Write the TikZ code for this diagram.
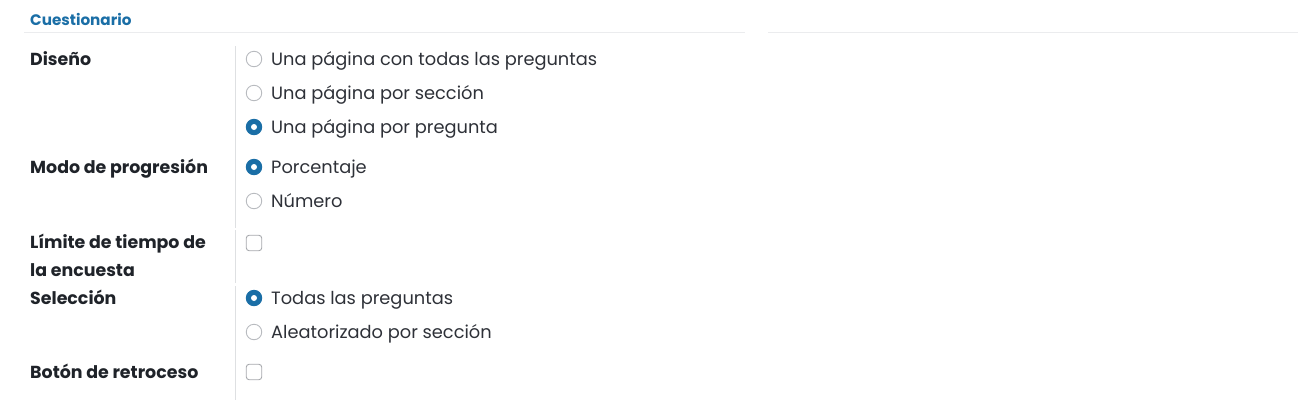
\documentclass[tikz,border=0pt]{standalone}
\usepackage{fontspec}
\setmainfont{Poppins}
\definecolor{formblue}{HTML}{1A6EA6}
\definecolor{lbltext}{HTML}{1F2329}
\definecolor{opttext}{HTML}{2E3138}
\definecolor{radiogray}{HTML}{B8BBBF}
\definecolor{rulegray}{HTML}{DEE0E2}
\begin{document}
\begin{tikzpicture}[x=1pt, y=-1pt,
    lbl/.style={anchor=base west, inner sep=0pt, text=lbltext, font=\bfseries\fontsize{17.4}{28}\selectfont, align=left},
    opt/.style={anchor=base west, inner sep=0pt, text=opttext, font=\fontsize{17.8}{20}\selectfont},
    radio/.style={circle, draw=radiogray, line width=0.9pt, minimum size=15.5pt, inner sep=0pt},
    radioon/.style={circle, fill=formblue, draw=formblue, line width=0.9pt, minimum size=15.5pt, inner sep=0pt},
    chk/.style={rectangle, rounded corners=3pt, draw=radiogray!90!black, line width=0.9pt, minimum size=15.5pt, inner sep=0pt}]
    \useasboundingbox (0,0) rectangle (1298,400);

    % section title and its rule
    \node[anchor=base west, inner sep=0pt, text=formblue, font=\bfseries\fontsize{15.2}{18}\selectfont] (title) at (30,25) {Cuestionario};
    \draw[rulegray!60, line width=0.8pt] (24,32.5) -- (745,32.5);
    \draw[rulegray!60, line width=0.8pt] (768,32.5) -- (1298,32.5);

    % dividers between labels and fields
    \draw[rulegray, line width=0.8pt] (235,46) -- (235,228);
    \draw[rulegray, line width=0.8pt] (235.5,230) -- (235.5,283);
    \draw[rulegray, line width=0.8pt] (235,286) -- (235,400);

    % labels
    \node[lbl] (diseno) at (30,65) {Diseño};
    \node[lbl] (modo) at (30,173) {Modo de progresión};
    \node[lbl] (limite) at (30,276) {Límite de tiempo de\\la encuesta};
    \node[lbl] (seleccion) at (30,304) {Selección};
    \node[lbl] (boton) at (30,378) {Botón de retroceso};

    % Diseño
    \node[radio] (r1) at (254,59) {};
    \node[radio] (r2) at (254,93) {};
    \node[radioon] (r3) at (254,127) {};
    \fill[white] (r3) circle (3pt);
    \node[opt] (o1) at (271,65) {Una página con todas las preguntas};
    \node[opt] (o2) at (271,99) {Una página por sección};
    \node[opt] (o3) at (271,133) {Una página por pregunta};

    % Modo de progresión
    \node[radioon] (r4) at (254,167) {};
    \fill[white] (r4) circle (3pt);
    \node[radio] (r5) at (254,201) {};
    \node[opt] (o4) at (271,173) {Porcentaje};
    \node[opt] (o5) at (271,207) {Número};

    % Límite de tiempo
    \node[chk] (c1) at (254,243) {};

    % Selección
    \node[radioon] (r6) at (254,298) {};
    \fill[white] (r6) circle (3pt);
    \node[radio] (r7) at (254,332) {};
    \node[opt] (o6) at (271,304) {Todas las preguntas};
    \node[opt] (o7) at (271,338) {Aleatorizado por sección};

    % Botón de retroceso
    \node[chk] (c2) at (254,372) {};
\end{tikzpicture}
\end{document}
